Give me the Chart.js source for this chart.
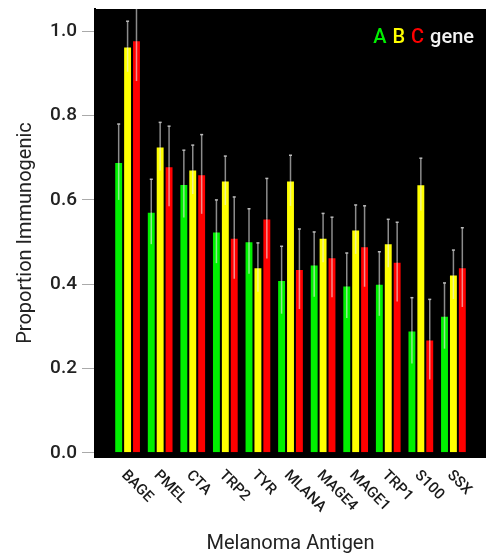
<!DOCTYPE html>
<html>
<head>
<meta charset="utf-8">
<script src="https://cdn.jsdelivr.net/npm/chart.js@4"></script>
<style>
  html, body { margin: 0; padding: 0; background: #fff; }
  #wrap { width: 486px; height: 556px; }
</style>
</head>
<body>
<div id="wrap"><canvas id="chart"></canvas></div>
<script>
const antigens = ['BAGE', 'PMEL', 'CTA', 'TRP2', 'TYR', 'MLANA', 'MAGE4', 'MAGE1', 'TRP1', 'S100', 'SSX'];
const geneA = [0.690, 0.572, 0.638, 0.525, 0.502, 0.410, 0.447, 0.397, 0.401, 0.290, 0.325];
const geneB = [0.964, 0.727, 0.672, 0.646, 0.440, 0.646, 0.510, 0.530, 0.497, 0.637, 0.423];
const geneC = [0.979, 0.680, 0.661, 0.510, 0.556, 0.436, 0.464, 0.490, 0.453, 0.269, 0.440];
const errA = [0.090, 0.077, 0.080, 0.075, 0.077, 0.080, 0.077, 0.077, 0.076, 0.078, 0.078];
const errB = [0.060, 0.057, 0.058, 0.058, 0.058, 0.060, 0.058, 0.058, 0.057, 0.062, 0.058];
const errC = [0.097, 0.095, 0.094, 0.097, 0.095, 0.095, 0.095, 0.096, 0.094, 0.095, 0.094];
const yTicks = [0, 0.2, 0.4, 0.6, 0.8, 1.0];

// one empty slot on each side, like the original plot
const pad = (arr) => [null, ...arr, null];
const labels = ['', ...antigens, ''];

const font = 'Roboto, "DejaVu Sans", sans-serif';

const blackPanel = {
  id: 'blackPanel',
  beforeDraw(chart) {
    const { ctx, chartArea: a } = chart;
    ctx.save();
    ctx.fillStyle = '#000';
    ctx.fillRect(a.left, a.top, a.right - a.left, a.bottom - a.top + 1);
    ctx.restore();
  }
};

const errorBars = {
  id: 'errorBars',
  afterDatasetsDraw(chart) {
    const { ctx, chartArea: a } = chart;
    const y = chart.scales.y;
    ctx.save();
    ctx.beginPath();
    ctx.rect(a.left, a.top, a.right - a.left, a.bottom - a.top);
    ctx.clip();
    chart.data.datasets.forEach((ds, di) => {
      const meta = chart.getDatasetMeta(di);
      meta.data.forEach((bar, i) => {
        const v = ds.data[i];
        if (v == null) return;
        const e = ds.err[i];
        const yTop = y.getPixelForValue(v + e);
        const yVal = y.getPixelForValue(v);
        const yBot = y.getPixelForValue(v - e);
        ctx.lineWidth = 1.5;
        ctx.strokeStyle = '#8c8c8c';
        ctx.beginPath();
        ctx.moveTo(bar.x, yTop);
        ctx.lineTo(bar.x, yVal);
        ctx.stroke();
        ctx.strokeStyle = 'rgba(235,235,235,0.6)';
        ctx.beginPath();
        ctx.moveTo(bar.x, yVal);
        ctx.lineTo(bar.x, yBot);
        ctx.stroke();
        ctx.strokeStyle = '#bbb';
        ctx.beginPath();
        ctx.moveTo(bar.x - 1.5, yTop);
        ctx.lineTo(bar.x + 1.5, yTop);
        ctx.stroke();
      });
    });
    ctx.restore();
  }
};

// x labels run down-right from each group, which Chart.js can't rotate that way
const slantLabels = {
  id: 'slantLabels',
  afterDraw(chart) {
    const { ctx, chartArea: a } = chart;
    const x = chart.scales.x;
    ctx.save();
    ctx.font = '500 15px ' + font;
    ctx.fillStyle = '#1a1a1a';
    ctx.textAlign = 'left';
    ctx.textBaseline = 'middle';
    antigens.forEach((name, i) => {
      const px = x.getPixelForValue(i + 1) - 4;
      ctx.save();
      ctx.translate(px, a.bottom + 16);
      ctx.rotate(Math.PI / 4);
      ctx.fillText(name, 0, 0);
      ctx.restore();
    });
    ctx.restore();
  }
};

const geneLegend = {
  id: 'geneLegend',
  afterDraw(chart) {
    const { ctx, chartArea: a } = chart;
    ctx.save();
    ctx.font = '500 20px ' + font;
    ctx.textBaseline = 'alphabetic';
    ctx.textAlign = 'left';
    const parts = chart.data.datasets.map(ds => [ds.label, ds.backgroundColor]);
    parts.push(['gene', '#f2f2f2']);
    const gap = 6;
    let total = 0;
    parts.forEach(p => { total += ctx.measureText(p[0]).width; });
    total += gap * (parts.length - 1);
    let px = a.right - 12 - total;
    const py = 43;
    parts.forEach(([t, c]) => {
      ctx.fillStyle = c;
      ctx.fillText(t, px, py);
      px += ctx.measureText(t).width + gap;
    });
    ctx.restore();
  }
};

const ctx = document.getElementById('chart').getContext('2d');
new Chart(ctx, {
  type: 'bar',
  data: {
    labels: labels,
    datasets: [
      { label: 'A', data: pad(geneA), err: pad(errA), backgroundColor: '#00f000' },
      { label: 'B', data: pad(geneB), err: pad(errB), backgroundColor: '#ffff00' },
      { label: 'C', data: pad(geneC), err: pad(errC), backgroundColor: '#ff0000' },
    ],
  },
  options: {
    responsive: true,
    maintainAspectRatio: false,
    animation: false,
    layout: { padding: { top: 9, right: 0, left: 0, bottom: 0 } },
    datasets: {
      bar: {
        categoryPercentage: 0.82,
        barPercentage: 1.0,
        borderWidth: 1,
        borderColor: 'rgba(0,0,0,0.35)',
      },
    },
    plugins: {
      legend: { display: false },
      tooltip: { enabled: false },
    },
    scales: {
      x: {
        offset: false,
        grid: { display: false },
        border: { display: true, color: '#000', width: 2 },
        ticks: { display: false },
        title: {
          display: true,
          text: 'Melanoma Antigen',
          color: '#222',
          font: { family: font, size: 20 },
          padding: { top: 67, bottom: 0 },
        },
      },
      y: {
        min: -0.01,
        max: 1.053,
        afterBuildTicks: (scale) => { scale.ticks = yTicks.map(v => ({ value: v })); },
        afterFit: (scale) => {
          scale.width = 95;
          scale.paddingTop = 0;
          scale.paddingBottom = 0;
        },
        grid: {
          drawOnChartArea: false,
          drawTicks: true,
          tickLength: 13,
          color: '#aaa',
        },
        border: { display: true, color: '#000', width: 2 },
        ticks: {
          padding: 5,
          color: '#222',
          font: { family: font, size: 19, weight: '500' },
          callback: (v) => v.toFixed(1),
        },
        title: {
          display: true,
          text: 'Proportion Immunogenic',
          color: '#222',
          font: { family: font, size: 20 },
          padding: { top: 14, bottom: 0 },
        },
      },
    },
  },
  plugins: [blackPanel, errorBars, slantLabels, geneLegend],
});
</script>
</body>
</html>
